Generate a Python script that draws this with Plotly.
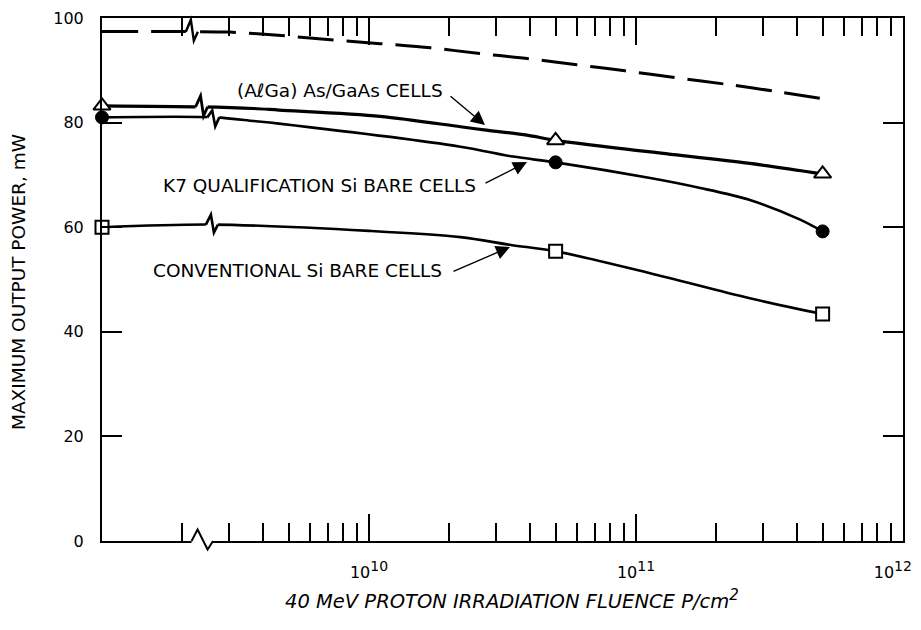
import numpy as np
import plotly.graph_objects as go

# ---------------- data ----------------
MARKER_X = [1e9, 5e10, 5e11]
ALGAAS_Y = [83.2, 76.6, 70.2]
K7_Y = [81.0, 72.4, 59.2]
CONV_Y = [60.0, 55.4, 43.4]

ALGAAS_CURVE_X = [1e9, 2.35e9, 3.7e9, 4.6e9, 1.1e10, 2.2e10, 2.7e10, 3.9e10, 5e10, 1.13e11, 2.67e11, 5e11]
ALGAAS_CURVE_Y = [83.2, 83.0, 82.7, 82.4, 81.2, 79.2, 78.6, 77.6, 76.6, 74.4, 72.2, 70.2]

K7_CURVE_X = [1e9, 2.65e9, 3.7e9, 4.6e9, 2.2e10, 3.46e10, 5e10, 1.13e11, 1.74e11, 2.67e11, 4.1e11, 5e11]
K7_CURVE_Y = [81.0, 81.0, 80.3, 79.8, 75.4, 73.5, 72.4, 69.4, 67.5, 65.2, 61.5, 59.2]

CONV_CURVE_X = [1e9, 2.6e9, 1.0e10, 2.2e10, 3.4e10, 5e10, 1.13e11, 2.67e11, 5e11]
CONV_CURVE_Y = [60.0, 60.5, 59.3, 58.1, 56.6, 55.4, 51.2, 46.4, 43.4]

DASH_X = [1e9, 2.05e9, 3.0e9, 4.3e9, 7.0e9, 1.1e10, 1.7e10, 2.6e10, 4.0e10, 6.0e10, 9.1e10, 1.4e11, 2.2e11, 3.4e11, 5.4e11]
DASH_Y = [97.4, 97.4, 97.3, 96.8, 95.9, 95.1, 94.3, 93.2, 92.2, 91.05, 89.9, 88.6, 87.3, 85.9, 84.3]

# break marks (fluence where each break symbol sits)
BREAK_AXIS = 2.36e9
BREAK_DASH = 2.17e9
BREAK_ALGAAS = 2.36e9
BREAK_K7 = 2.61e9
BREAK_CONV = 2.58e9

SUP = '<sup><span style="font-size:14px">{}</span></sup>'
X_MAJOR = [1e10, 1e11, 1e12]
X_MAJOR_TEXT = ["10" + SUP.format(10), "10" + SUP.format(11),
                "10" + SUP.format(12) + "&nbsp;&nbsp;&nbsp;&nbsp;"]
X_MINOR = [m * 10 ** e for e in (9, 10, 11) for m in range(2, 10)]
Y_TICKS = [0, 20, 40, 60, 80, 100]

LABEL_ALGAAS = "(AℓGa) As/GaAs CELLS"
LABEL_K7 = "K7 QUALIFICATION Si BARE CELLS"
LABEL_CONV = "CONVENTIONAL Si BARE CELLS"
X_TITLE = '40 MeV PROTON IRRADIATION FLUENCE P/cm<sup><span style="font-size:15px">2</span></sup>'
Y_TITLE = "MAXIMUM OUTPUT POWER, mW"

# ---------------- layout geometry ----------------
W, H = 921, 630
ML, MR, MT, MB = 102, 18, 18, 89
PW, PH = W - ML - MR, H - MT - MB
FONT = "DejaVu Sans"
X_LO = 9 - 1e-6  # log10 of left edge (1e9), nudged so edge points are kept
X_HI = 12 + 1e-6


def xp(f):
    return (np.log10(f) - X_LO) / (X_HI - X_LO)


def dx(px):
    return px / PW


def dy(px):
    return px / PH


def y_at(xs, ys, f):
    return float(np.interp(np.log10(f), np.log10(xs), ys))


fig = go.Figure()

line_specs = [
    (DASH_X, DASH_Y, dict(color="black", width=3, dash="36px,13px")),
    (ALGAAS_CURVE_X, ALGAAS_CURVE_Y, dict(color="black", width=3.2)),
    (K7_CURVE_X, K7_CURVE_Y, dict(color="black", width=2.6)),
    (CONV_CURVE_X, CONV_CURVE_Y, dict(color="black", width=2.6)),
]
for xs, ys, ln in line_specs:
    fig.add_trace(go.Scatter(x=xs, y=ys, mode="lines", line=dict(shape="spline", smoothing=0.9, **ln),
                             cliponaxis=False, showlegend=False, hoverinfo="skip"))

fig.add_trace(go.Scatter(x=MARKER_X, y=ALGAAS_Y, mode="markers", cliponaxis=False, showlegend=False,
                         marker=dict(symbol="triangle-up", size=15, color="white",
                                     line=dict(color="black", width=2))))
fig.add_trace(go.Scatter(x=MARKER_X, y=K7_Y, mode="markers", cliponaxis=False, showlegend=False,
                         marker=dict(symbol="circle", size=13, color="black",
                                     line=dict(color="black", width=1))))
fig.add_trace(go.Scatter(x=MARKER_X, y=CONV_Y, mode="markers", cliponaxis=False, showlegend=False,
                         marker=dict(symbol="square", size=13, color="white",
                                     line=dict(color="black", width=2))))

shapes = []


def line_break(f, yv, up=10, down=9, lw=2.6):
    x = xp(f)
    y = yv / 100
    shapes.append(dict(type="rect", xref="paper", yref="paper", x0=x - dx(6), x1=x + dx(6),
                       y0=y - dy(2.5), y1=y + dy(2.5), fillcolor="white", line=dict(width=0), layer="above"))
    path = (f"M {x - dx(6)},{y} L {x - dx(1)},{y + dy(up)} "
            f"L {x + dx(2)},{y - dy(down)} L {x + dx(6)},{y}")
    shapes.append(dict(type="path", xref="paper", yref="paper", path=path,
                       line=dict(color="black", width=lw), layer="above"))


line_break(BREAK_DASH, y_at(DASH_X, DASH_Y, BREAK_DASH), up=12, down=9, lw=2.4)
line_break(BREAK_ALGAAS, y_at(ALGAAS_CURVE_X, ALGAAS_CURVE_Y, BREAK_ALGAAS), up=11, down=9, lw=2.8)
line_break(BREAK_K7, y_at(K7_CURVE_X, K7_CURVE_Y, BREAK_K7), up=7, down=9)
line_break(BREAK_CONV, y_at(CONV_CURVE_X, CONV_CURVE_Y, BREAK_CONV), up=10, down=8)

# bottom axis break
xb = xp(BREAK_AXIS)
shapes.append(dict(type="rect", xref="paper", yref="paper", x0=xb - dx(10), x1=xb + dx(11.5),
                   y0=-dy(2), y1=dy(2), fillcolor="white", line=dict(width=0), layer="above"))
shapes.append(dict(type="path", xref="paper", yref="paper",
                   path=(f"M {xb - dx(10)},0 L {xb - dx(4)},{dy(11.5)} "
                         f"L {xb + dx(6)},{-dy(8.5)} L {xb + dx(11.5)},0"),
                   line=dict(color="black", width=2), layer="above"))

annotations = []
TXT = dict(family=FONT, size=18.5, color="black")


def label(text, x_end_px, y_center_px):
    annotations.append(dict(text=text, xref="paper", yref="paper", x=(x_end_px - ML) / PW,
                            y=(MT + PH - y_center_px) / PH, xanchor="right", yanchor="middle",
                            showarrow=False, font=TXT))


def arrow(tip_px, tail_px):
    tx, ty = tip_px
    annotations.append(dict(text="", xref="paper", yref="paper", x=(tx - ML) / PW,
                            y=(MT + PH - ty) / PH, ax=tail_px[0] - tx, ay=tail_px[1] - ty,
                            showarrow=True, arrowhead=2, arrowsize=2.0, arrowwidth=1.4,
                            arrowcolor="black", standoff=0))


label(LABEL_ALGAAS, 445, 90)
arrow((485, 125), (449, 95))
label(LABEL_K7, 478, 185.5)
arrow((527, 162), (484, 184))
label(LABEL_CONV, 444, 270.5)
arrow((510, 247), (452, 272))

annotations.append(dict(text=Y_TITLE, xref="paper", yref="paper", x=(18.5 - ML) / PW,
                        y=(MT + PH - 282.5) / PH, textangle=-90, showarrow=False,
                        xanchor="center", yanchor="middle", font=dict(family=FONT, size=18.5, color="black")))
annotations.append(dict(text=X_TITLE, xref="paper", yref="paper", x=(511.5 - ML) / PW,
                        y=(MT + PH - 600) / PH, showarrow=False, xanchor="center", yanchor="middle",
                        font=dict(family=FONT, size=19.5, color="black", style="italic")))

fig.update_layout(
    width=W, height=H,
    margin=dict(l=ML, r=MR, t=MT, b=MB, pad=0, autoexpand=False),
    paper_bgcolor="white", plot_bgcolor="white",
    showlegend=False,
    shapes=shapes, annotations=annotations,
    xaxis=dict(type="log", range=[X_LO, X_HI], showgrid=False, zeroline=False, automargin=False,
               showline=True, linecolor="black", linewidth=2, mirror="ticks",
               tickmode="array", tickvals=X_MAJOR, ticktext=X_MAJOR_TEXT,
               ticks="inside", ticklen=27, tickwidth=2, tickcolor="black",
               ticklabelstandoff=16, ticklabeloverflow="allow",
               tickfont=dict(family=FONT, size=16, color="black"),
               minor=dict(tickmode="array", tickvals=X_MINOR, ticks="inside", ticklen=18,
                          tickwidth=2, tickcolor="black", showgrid=False)),
    yaxis=dict(range=[0, 100], showgrid=False, zeroline=False, automargin=False,
               showline=True, linecolor="black", linewidth=2, mirror="ticks",
               tickmode="array", tickvals=Y_TICKS,
               ticks="inside", ticklen=20, tickwidth=2, tickcolor="black",
               ticklabelstandoff=13,
               tickfont=dict(family=FONT, size=16, color="black")),
)

fig.write_html("out.html")
